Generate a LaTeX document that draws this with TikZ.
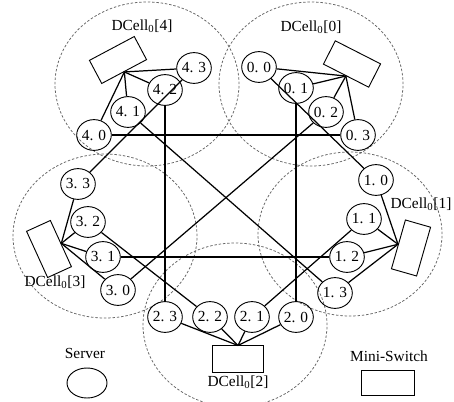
\documentclass[tikz,border=0pt]{standalone}
\usepackage{fontspec}
\setmainfont{Liberation Serif}
\usetikzlibrary{shapes.geometric}
\tikzset{every picture/.style={line width=0.75pt}}
\tikzset{
    server/.style={draw, ellipse, inner sep=0pt, minimum width=22.5pt, minimum height=20pt, line width=0.6pt},
    switchbox/.style={draw, rectangle, minimum width=33pt, minimum height=17pt, line width=0.6pt},
    cell/.style={dash pattern=on 1.6pt off 1.2pt, line width=0.5pt, gray!80!black},
    link/.style={line width=0.8pt}
}
\newcommand{\dcell}[1]{DCell\textsubscript{0}[#1]}

\begin{document}
\begin{tikzpicture}[x=0.65pt, y=-0.65pt]
    \useasboundingbox (0,0) rectangle (454,401);

    % === DCell_0 outlines ===
    \draw[cell] (147,84) ellipse [x radius=59.8pt, y radius=53.3pt];
    \draw[cell] (311,84) ellipse [x radius=59.8pt, y radius=53.3pt];
    \draw[cell] (350,234) ellipse [x radius=59.8pt, y radius=53.3pt];
    \draw[cell] (235,325) ellipse [x radius=59.8pt, y radius=53.3pt];
    \draw[cell] (105,236) ellipse [x radius=59.8pt, y radius=53.3pt];

    % === DCell_0[4] ===
    \node[switchbox, rotate=28] (w4) at (118,60) {};
    \node[server] (s40) at (94,135) {4. 0};
    \node[server] (s41) at (128,112) {4. 1};
    \node[server] (s42) at (165,90) {4. 2};
    \node[server] (s43) at (194,68) {4. 3};
    \node (l4) at (142,26) {\dcell{4}};

    % === DCell_0[0] ===
    \node[switchbox, rotate=-27] (w0) at (352,64) {};
    \node[server] (s00) at (259,67) {0. 0};
    \node[server] (s01) at (296,88) {0. 1};
    \node[server] (s02) at (326,112) {0. 2};
    \node[server] (s03) at (358,135) {0. 3};
    \node (l0) at (311,27) {\dcell{0}};

    % === DCell_0[1] ===
    \node[switchbox, rotate=254] (w1) at (411,248) {};
    \node[server] (s10) at (376,180) {1. 0};
    \node[server] (s11) at (364,219) {1. 1};
    \node[server] (s12) at (347,257) {1. 2};
    \node[server] (s13) at (335,293) {1. 3};
    \node (l1) at (421,204) {\dcell{1}};

    % === DCell_0[2] ===
    \node[switchbox] (w2) at (238,359) {};
    \node[server] (s20) at (296,317) {2. 0};
    \node[server] (s21) at (252,317) {2. 1};
    \node[server] (s22) at (210,317) {2. 2};
    \node[server] (s23) at (165,317) {2. 3};
    \node (l2) at (238,382) {\dcell{2}};

    % === DCell_0[3] ===
    \node[switchbox, rotate=114.5] (w3) at (49,249) {};
    \node[server] (s30) at (118,290) {3. 0};
    \node[server] (s31) at (103,257) {3. 1};
    \node[server] (s32) at (88,222) {3. 2};
    \node[server] (s33) at (78,184) {3. 3};
    \node (l3) at (55,282) {\dcell{3}};

    % switch -- server
    \foreach \i in {0,...,3} {
        \draw[link] (w4.south) -- (s4\i);
        \draw[link] (w0.south) -- (s0\i);
        \draw[link] (w1.south) -- (s1\i);
        \draw[link] (w2.north) -- (s2\i);
        \draw[link] (w3.south) -- (s3\i);
    }

    % links between cells
    \draw[link] (s00) -- (s10);
    \draw[link] (s01) -- (s20);
    \draw[link] (s02) -- (s30);
    \draw[link] (s03) -- (s40);
    \draw[link] (s11) -- (s21);
    \draw[link] (s12) -- (s31);
    \draw[link] (s13) -- (s41);
    \draw[link] (s22) -- (s32);
    \draw[link] (s23) -- (s42);
    \draw[link] (s33) -- (s43);

    % Legend
    \node (srvtext) at (85,353) {Server};
    \node[server, minimum width=26pt, minimum height=19.5pt] (srvkey) at (87,383) {};
    \node (swtext) at (389,356) {Mini-Switch};
    \node[switchbox, minimum width=34pt, minimum height=16pt] (swkey) at (388,383) {};
\end{tikzpicture}
\end{document}
